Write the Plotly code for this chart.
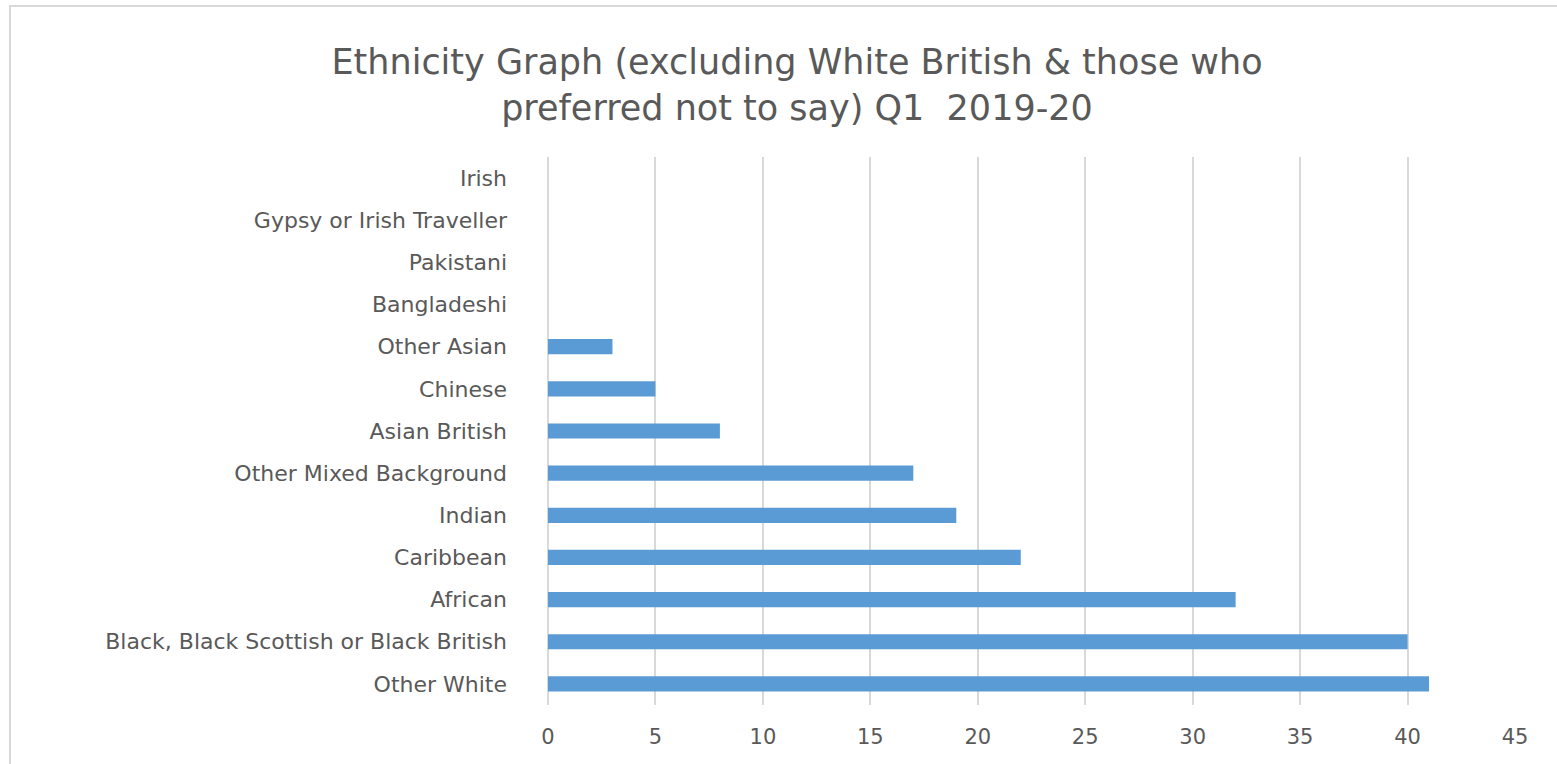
import plotly.graph_objects as go

categories = [
    "Irish", "Gypsy or Irish Traveller", "Pakistani", "Bangladeshi",
    "Other Asian", "Chinese", "Asian British", "Other Mixed Background",
    "Indian", "Caribbean", "African", "Black, Black Scottish or Black British",
    "Other White",
]
counts = [0, 0, 0, 0, 3, 5, 8, 17, 19, 22, 32, 40, 41]
x_ticks = [0, 5, 10, 15, 20, 25, 30, 35, 40, 45]

W, H = 1557, 764
L, R, T, B = 548, 42, 157, 59
FONT = "DejaVu Sans"
TEXT = "#595959"
GRID = "#d9d9d9"

fig = go.Figure(go.Bar(
    x=counts, y=categories, orientation="h",
    marker=dict(color="#5b9bd5", line=dict(width=0)),
    hoverinfo="x+y",
))

fig.update_layout(
    width=W, height=H,
    margin=dict(l=L, r=R, t=T, b=B),
    paper_bgcolor="white", plot_bgcolor="white",
    bargap=0.64,
    showlegend=False,
    title=dict(
        text="Ethnicity Graph (excluding White British & those who<br>preferred not to say) Q1  2019-20",
        x=797 / W, xanchor="center", xref="container",
        y=1 - 74 / H, yanchor="middle", yref="container",
        font=dict(family=FONT, size=35, color=TEXT),
    ),
    font=dict(family=FONT, color=TEXT),
    xaxis=dict(
        range=[0, 45], tickvals=x_ticks, showgrid=True,
        gridcolor=GRID, gridwidth=2,
        zeroline=True, zerolinecolor=GRID, zerolinewidth=2,
        showline=False, ticks="", ticklabelstandoff=17,
        tickfont=dict(family=FONT, size=21, color=TEXT),
    ),
    yaxis=dict(
        categoryorder="array", categoryarray=categories[::-1],
        showgrid=False, zeroline=False, showline=False, ticks="",
        tickfont=dict(family=FONT, size=22, color=TEXT),
        ticklabelstandoff=40,
    ),
    shapes=[dict(
        type="rect", xref="paper", yref="paper",
        x0=(10 - L) / (W - L - R), x1=(1600 - L) / (W - L - R),
        y0=-1, y1=1 + (T - 6) / (H - T - B),
        line=dict(color=GRID, width=2), fillcolor="rgba(0,0,0,0)",
        layer="below",
    )],
)

fig.write_html("out.html")
